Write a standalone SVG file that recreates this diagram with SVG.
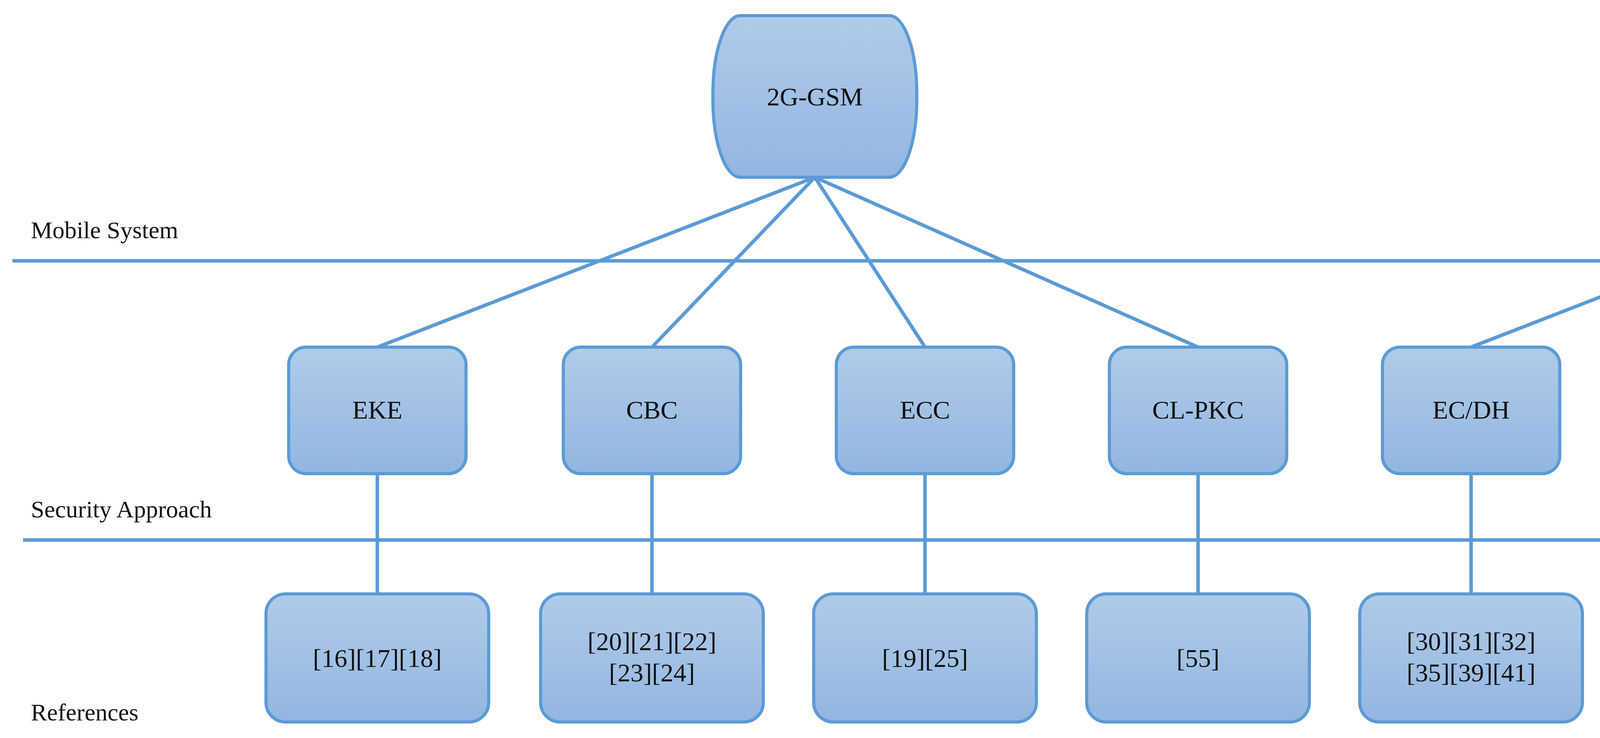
<svg xmlns="http://www.w3.org/2000/svg" width="6193" height="1890" viewBox="0 0 6193 1890">
<defs>
<linearGradient id="g" x1="0" y1="0" x2="0" y2="1"><stop offset="0" stop-color="#b0cbe9"/><stop offset="1" stop-color="#92b6e1"/></linearGradient>
<style>
.n{fill:url(#g);stroke:#5b9bd5;stroke-width:8}
.t{font-family:"Liberation Serif",serif;font-size:66px;fill:#111;text-anchor:middle}
.l{font-family:"Liberation Serif",serif;font-size:62px;fill:#111}
.c{stroke:#5b9bd5;stroke-width:9;fill:none}
</style>
</defs>
<rect width="6193" height="1890" fill="#fff"/>
<g id="labels">
<text class="l" x="79" y="610">Mobile System</text>
<text class="l" x="79" y="1325">Security Approach</text>
<text class="l" x="79" y="1845">References</text>
</g>
<g id="connectors" class="c">
<line x1="32" y1="668" x2="6115" y2="668"/>
<line x1="59" y1="1383" x2="6150" y2="1383"/>
<line x1="2086" y1="454" x2="966" y2="889"/>
<line x1="2086" y1="454" x2="1669" y2="889"/>
<line x1="2086" y1="454" x2="2368" y2="889"/>
<line x1="2086" y1="454" x2="3067" y2="889"/>
<line x1="4886" y1="454" x2="3766" y2="889"/>
<line x1="4886" y1="454" x2="4465" y2="889"/>
<line x1="4886" y1="454" x2="5165" y2="889"/>
<line x1="4886" y1="454" x2="5864" y2="889"/>
<line x1="966" y1="1213" x2="966" y2="1521"/>
<line x1="1669" y1="1213" x2="1669" y2="1521"/>
<line x1="2368" y1="1213" x2="2368" y2="1521"/>
<line x1="3067" y1="1213" x2="3067" y2="1521"/>
<line x1="3766" y1="1213" x2="3766" y2="1521"/>
<line x1="4465" y1="1213" x2="4465" y2="1521"/>
<line x1="5165" y1="1213" x2="5165" y2="1521"/>
<line x1="5864" y1="1213" x2="5864" y2="1521"/>
</g>
<g id="n-2g"><rect class="n" x="1825" y="40" width="522" height="414" rx="70" ry="200"/><text class="t" x="2086" y="270">2G-GSM</text></g>
<g id="n-3gpp"><rect class="n" x="4625" y="40" width="522" height="414" rx="70" ry="200"/><text class="t" x="4886" y="270">3GPP</text></g>
<g id="n-eke"><rect class="n" x="739" y="889" width="454" height="324" rx="45"/><text class="t" x="966" y="1072">EKE</text></g>
<g id="n-cbc1"><rect class="n" x="1442" y="889" width="454" height="324" rx="45"/><text class="t" x="1669" y="1072">CBC</text></g>
<g id="n-ecc"><rect class="n" x="2141" y="889" width="454" height="324" rx="45"/><text class="t" x="2368" y="1072">ECC</text></g>
<g id="n-clpkc"><rect class="n" x="2840" y="889" width="454" height="324" rx="45"/><text class="t" x="3067" y="1072">CL-PKC</text></g>
<g id="n-ecdh"><rect class="n" x="3539" y="889" width="454" height="324" rx="45"/><text class="t" x="3766" y="1072">EC/DH</text></g>
<g id="n-cbc2"><rect class="n" x="4238" y="889" width="454" height="324" rx="45"/><text class="t" x="4465" y="1072">CBC</text></g>
<g id="n-proxy"><rect class="n" x="4938" y="889" width="454" height="324" rx="45"/><text class="t" x="5165" y="1072">Proxy</text></g>
<g id="n-symm"><rect class="n" x="5637" y="889" width="454" height="324" rx="45"/><text class="t" x="5864" y="1072">Symm.</text></g>
<g id="r1"><rect class="n" x="681" y="1521" width="570" height="328" rx="50"/><text class="t" x="966" y="1708">[16][17][18]</text></g>
<g id="r2"><rect class="n" x="1384" y="1521" width="570" height="328" rx="50"/><text class="t" x="1669" y="1665">[20][21][22]</text><text class="t" x="1669" y="1745">[23][24]</text></g>
<g id="r3"><rect class="n" x="2083" y="1521" width="570" height="328" rx="50"/><text class="t" x="2368" y="1708">[19][25]</text></g>
<g id="r4"><rect class="n" x="2782" y="1521" width="570" height="328" rx="50"/><text class="t" x="3067" y="1708">[55]</text></g>
<g id="r5"><rect class="n" x="3481" y="1521" width="570" height="328" rx="50"/><text class="t" x="3766" y="1665">[30][31][32]</text><text class="t" x="3766" y="1745">[35][39][41]</text></g>
<g id="r6"><rect class="n" x="4180" y="1521" width="570" height="328" rx="50"/><text class="t" x="4465" y="1665">[33][36][37]</text><text class="t" x="4465" y="1745">[38][40]</text></g>
<g id="r7"><rect class="n" x="4880" y="1521" width="570" height="328" rx="50"/><text class="t" x="5165" y="1708">[42][56][57]</text></g>
<g id="r8"><rect class="n" x="5579" y="1521" width="570" height="328" rx="50"/><text class="t" x="5864" y="1665">[46][47][48]</text><text class="t" x="5864" y="1745">[49]</text></g>
</svg>
